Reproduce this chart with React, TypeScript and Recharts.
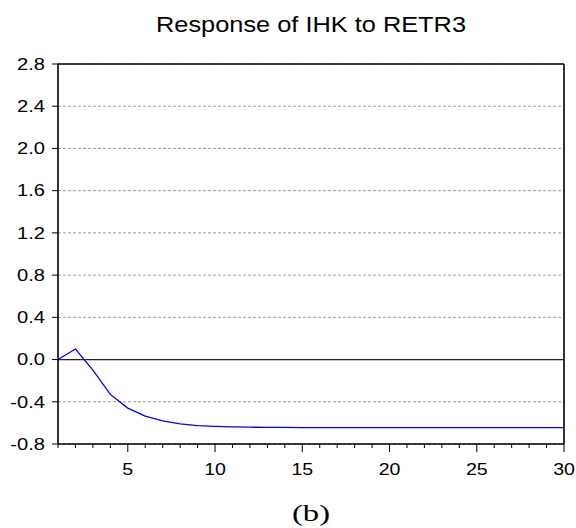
import { LineChart, Line, XAxis, YAxis, CartesianGrid, ReferenceLine } from 'recharts'

const periods = [1, 2, 3, 4, 5, 6, 7, 8, 9, 10, 11, 12, 13, 14, 15, 16, 17, 18, 19, 20, 21, 22, 23, 24, 25, 26, 27, 28, 29, 30]
const response = [
  0.0, 0.1, -0.1, -0.33, -0.46, -0.535, -0.58, -0.61, -0.625, -0.633,
  -0.638, -0.641, -0.642, -0.643, -0.644, -0.644, -0.644, -0.644, -0.644, -0.644,
  -0.644, -0.644, -0.644, -0.644, -0.644, -0.644, -0.644, -0.644, -0.644, -0.644,
]
const yTicks = [-0.8, -0.4, 0, 0.4, 0.8, 1.2, 1.6, 2.0, 2.4, 2.8]
const xLabels = [5, 10, 15, 20, 25, 30]

const title = 'Response of IHK to RETR3'
const caption = '(b)'

const data = periods.map((p, i) => ({ period: p, value: response[i] }))

const FONT = 'Arial, "Liberation Sans", sans-serif'

function XTick(props: any) {
  const { x, y, payload } = props
  const v = payload.value
  const major = v % 5 === 0
  return (
    <g>
      <line x1={x} x2={x} y1={y} y2={y + (major ? 8 : 4)} stroke="#000" strokeWidth={1} />
      {xLabels.includes(v) && (
        <g transform={`translate(${x},${y + 25}) scale(1.15,1)`}>
          <text x={0} y={0} textAnchor="middle" dominantBaseline="central"
                fontFamily={FONT} fontSize={17} fill="#000">{v}</text>
        </g>
      )}
    </g>
  )
}

function YTick(props: any) {
  const { x, y, payload } = props
  return (
    <g>
      <line x1={x - 6} x2={x} y1={y} y2={y} stroke="#000" strokeWidth={1} />
      <g transform={`translate(${x - 13},${y}) scale(1.22,1)`}>
        <text x={0} y={0} textAnchor="end" dominantBaseline="central"
              fontFamily={FONT} fontSize={16.5} fill="#000">{payload.value.toFixed(1)}</text>
      </g>
    </g>
  )
}

export default function App() {
  return (
    <div style={{ position: 'absolute', left: 0, top: 0, width: 576, height: 528, background: '#fff' }}>
      <LineChart width={576} height={528} data={data}
                 margin={{ top: 64, right: 12, bottom: 0, left: 0 }}>
        <CartesianGrid horizontal vertical={false} stroke="#9a9a9a" strokeDasharray="3 2" />
        <XAxis dataKey="period" type="number" domain={[1, 30]} ticks={periods}
               interval={0} height={84} tickSize={0} tickMargin={0}
               tickLine={false} axisLine={{ stroke: '#000', strokeWidth: 1.6 }}
               tick={<XTick />} />
        <YAxis type="number" domain={[-0.8, 2.8]} ticks={yTicks} width={58}
               interval={0} tickSize={0} tickMargin={0} tickLine={false}
               axisLine={{ stroke: '#000', strokeWidth: 1.6 }} tick={<YTick />} />
        <ReferenceLine y={0} stroke="#222" strokeWidth={1.2} />
        <ReferenceLine y={2.8} stroke="#000" strokeWidth={1.6} />
        <ReferenceLine x={30} stroke="#000" strokeWidth={1.6} />
        <Line type="linear" dataKey="value" stroke="#0000ff" strokeWidth={1.3}
              dot={false} isAnimationActive={false} />
      </LineChart>
      <svg width={576} height={528} style={{ position: 'absolute', left: 0, top: 0, pointerEvents: 'none' }}>
        <text x={156} y={32} fontFamily={FONT} fontSize={22} fill="#000"
              textLength={310} lengthAdjust="spacingAndGlyphs">{title}</text>
        <text x={292} y={521} fontFamily='"Times New Roman", "Liberation Serif", serif' fontSize={24} fill="#000"
              textLength={38} lengthAdjust="spacingAndGlyphs">{caption}</text>
      </svg>
    </div>
  )
}
